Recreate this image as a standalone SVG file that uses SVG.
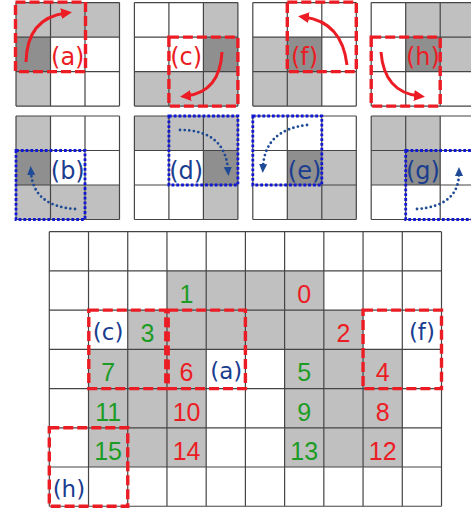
<svg xmlns="http://www.w3.org/2000/svg" width="471" height="510" viewBox="0 0 471 510">
<style>
.bg{fill:#ffffff}
.lg{fill:#c0c0c0}
.dg{fill:#8f8f8f}
.gl{fill:none;stroke:#454545;stroke-width:1.2}
.rbox{fill:none;stroke:#ec1c24;stroke-width:3.4;stroke-dasharray:10 4}
.bbox{fill:none;stroke:#1018d4;stroke-width:2.8;stroke-dasharray:2.8 2}
.rarr{fill:none;stroke:#ec1c24;stroke-width:3;marker-end:url(#rh)}
.barr{fill:none;stroke:#1e4a96;stroke-width:2.8;stroke-linecap:round;stroke-dasharray:0 4.6;marker-end:url(#bh)}
.lab{font-family:"DejaVu Sans",sans-serif;font-size:23px;text-anchor:middle}
.slab{font-family:"DejaVu Sans",sans-serif;font-size:24px;text-anchor:middle}
.num{font-family:"Liberation Sans",Arial,sans-serif;font-size:25px;text-anchor:middle}
.red{fill:#ec1c24}
.blue{fill:#1a3d8f}
.grn{fill:#1c9c24}
</style>
<defs>
<marker id="rh" markerUnits="userSpaceOnUse" markerWidth="11" markerHeight="11" viewBox="0 0 11 11" refX="5" refY="5.5" orient="auto">
<path d="M0,0 L11,5.5 L0,11 z" fill="#ec1c24"/>
</marker>
<marker id="bh" markerUnits="userSpaceOnUse" markerWidth="9" markerHeight="9" viewBox="0 0 9 9" refX="3" refY="4.5" orient="auto">
<path d="M0,0.5 L9,4.5 L0,8.5 z" fill="#1e4a96"/>
</marker>
</defs>
<rect class="bg" x="0" y="0" width="471" height="510"/>

<!-- small grid (a) -->
<g id="grid-a" transform="translate(16,2.6)">
<rect class="lg" x="0" y="0" width="103.5" height="34.5"/>
<rect class="dg" x="0" y="34.5" width="34.5" height="34.5"/>
<rect class="lg" x="0" y="69" width="34.5" height="34.5"/>
<path class="gl" d="M0,0H103.5M0,34.5H103.5M0,69H103.5M0,103.5H103.5M0,0V103.5M34.5,0V103.5M69,0V103.5M103.5,0V103.5"/>
<rect class="rbox" x="-0.5" y="-0.5" width="70" height="69.5"/>
<text class="slab red" x="51.75" y="62.5">(a)</text>
<path class="rarr" d="M10,59.4 Q11,15.4 50,10.4"/>
</g>

<!-- small grid (c) -->
<g id="grid-c" transform="translate(134.4,2.6)">
<rect class="lg" x="69" y="0" width="34.5" height="34.5"/>
<rect class="dg" x="69" y="34.5" width="34.5" height="34.5"/>
<rect class="lg" x="0" y="69" width="103.5" height="34.5"/>
<path class="gl" d="M0,0H103.5M0,34.5H103.5M0,69H103.5M0,103.5H103.5M0,0V103.5M34.5,0V103.5M69,0V103.5M103.5,0V103.5"/>
<rect class="rbox" x="34.5" y="34.5" width="69" height="69"/>
<text class="slab red" x="51.75" y="62.5">(c)</text>
<path class="rarr" d="M87.6,49.4 Q85.6,89.4 51.6,93.4"/>
</g>

<!-- small grid (f) -->
<g id="grid-f" transform="translate(252.8,2.6)">
<rect class="lg" x="0" y="34.5" width="34.5" height="34.5"/>
<rect class="dg" x="34.5" y="34.5" width="34.5" height="34.5"/>
<rect class="lg" x="0" y="69" width="69" height="34.5"/>
<path class="gl" d="M0,0H103.5M0,34.5H103.5M0,69H103.5M0,103.5H103.5M0,0V103.5M34.5,0V103.5M69,0V103.5M103.5,0V103.5"/>
<rect class="rbox" x="34.5" y="-0.5" width="69" height="69.5"/>
<text class="slab red" x="51.75" y="62.5">(f)</text>
<path class="rarr" d="M94.2,62.4 Q89.2,19.4 51.2,14.4"/>
</g>

<!-- small grid (h) -->
<g id="grid-h" transform="translate(371.2,2.6)">
<rect class="lg" x="34.5" y="0" width="69" height="34.5"/>
<rect class="dg" x="34.5" y="34.5" width="34.5" height="34.5"/>
<rect class="lg" x="69" y="34.5" width="34.5" height="34.5"/>
<path class="gl" d="M0,0H103.5M0,34.5H103.5M0,69H103.5M0,103.5H103.5M0,0V103.5M34.5,0V103.5M69,0V103.5M103.5,0V103.5"/>
<rect class="rbox" x="0" y="34.5" width="69" height="69"/>
<text class="slab red" x="51.75" y="62.5">(h)</text>
<path class="rarr" d="M9.8,49.4 Q12.8,89.4 47.8,93.4"/>
</g>

<!-- small grid (b) -->
<g id="grid-b" transform="translate(16,116)">
<rect class="lg" x="0" y="0" width="34.5" height="34.5"/>
<rect class="dg" x="0" y="34.5" width="34.5" height="34.5"/>
<rect class="lg" x="0" y="69" width="103.5" height="34.5"/>
<path class="gl" d="M0,0H103.5M0,34.5H103.5M0,69H103.5M0,103.5H103.5M0,0V103.5M34.5,0V103.5M69,0V103.5M103.5,0V103.5"/>
<rect class="bbox" x="0" y="34.5" width="69" height="69"/>
<text class="slab blue" x="51.75" y="62.5">(b)</text>
<path class="barr" d="M59,93 Q17,90 15,56"/>
</g>

<!-- small grid (d) -->
<g id="grid-d" transform="translate(134.4,116)">
<rect class="lg" x="0" y="0" width="103.5" height="34.5"/>
<rect class="dg" x="69" y="34.5" width="34.5" height="34.5"/>
<rect class="lg" x="69" y="69" width="34.5" height="34.5"/>
<path class="gl" d="M0,0H103.5M0,34.5H103.5M0,69H103.5M0,103.5H103.5M0,0V103.5M34.5,0V103.5M69,0V103.5M103.5,0V103.5"/>
<rect class="bbox" x="34.5" y="0" width="69" height="69"/>
<text class="slab blue" x="51.75" y="62.5">(d)</text>
<path class="barr" d="M45.6,14 Q90.6,14 93.6,54"/>
</g>

<!-- small grid (e) -->
<g id="grid-e" transform="translate(252.8,116)">
<rect class="dg" x="34.5" y="34.5" width="34.5" height="34.5"/>
<rect class="lg" x="69" y="34.5" width="34.5" height="34.5"/>
<rect class="lg" x="34.5" y="69" width="69" height="34.5"/>
<path class="gl" d="M0,0H103.5M0,34.5H103.5M0,69H103.5M0,103.5H103.5M0,0V103.5M34.5,0V103.5M69,0V103.5M103.5,0V103.5"/>
<rect class="bbox" x="0" y="0" width="69" height="69"/>
<text class="slab blue" x="51.75" y="62.5">(e)</text>
<path class="barr" d="M54.2,9 Q12.2,14 10.2,51"/>
</g>

<!-- small grid (g) -->
<g id="grid-g" transform="translate(371.2,116)">
<rect class="lg" x="0" y="0" width="69" height="34.5"/>
<rect class="lg" x="0" y="34.5" width="34.5" height="34.5"/>
<rect class="dg" x="34.5" y="34.5" width="34.5" height="34.5"/>
<path class="gl" d="M0,0H103.5M0,34.5H103.5M0,69H103.5M0,103.5H103.5M0,0V103.5M34.5,0V103.5M69,0V103.5M103.5,0V103.5"/>
<rect class="bbox" x="34.5" y="34.5" width="69" height="69"/>
<text class="slab blue" x="51.75" y="62.5">(g)</text>
<path class="barr" d="M45.8,93 Q87.8,90 87.8,57"/>
</g>

<!-- big grid -->
<g id="big-grid">
<rect class="lg" x="166.96" y="270.92" width="156.88" height="39.22"/>
<rect class="lg" x="127.74" y="310.14" width="235.32" height="39.22"/>
<rect class="lg" x="88.52" y="349.36" width="117.66" height="117.66"/>
<rect class="lg" x="284.62" y="349.36" width="117.66" height="117.66"/>
<path class="gl" d="M49.3,231.7H441.5M49.3,270.92H441.5M49.3,310.14H441.5M49.3,349.36H441.5M49.3,388.58H441.5M49.3,427.8H441.5M49.3,467.02H441.5M49.3,506.24H441.5
M49.3,231.7V506.24M88.52,231.7V506.24M127.74,231.7V506.24M166.96,231.7V506.24M206.18,231.7V506.24M245.4,231.7V506.24M284.62,231.7V506.24M323.84,231.7V506.24M363.06,231.7V506.24M402.28,231.7V506.24M441.5,231.7V506.24"/>
</g>

<g id="numbers">
<text class="num grn" x="186.57" y="302.9">1</text>
<text class="num red" x="304.23" y="302.9">0</text>
<text class="num grn" x="147.35" y="342.1">3</text>
<text class="num red" x="343.45" y="342.1">2</text>
<text class="num grn" x="108.13" y="381.4">7</text>
<text class="num red" x="186.57" y="381.4">6</text>
<text class="num grn" x="304.23" y="381.4">5</text>
<text class="num red" x="382.67" y="381.4">4</text>
<text class="num grn" x="108.13" y="420.6">11</text>
<text class="num red" x="186.57" y="420.6">10</text>
<text class="num grn" x="304.23" y="420.6">9</text>
<text class="num red" x="382.67" y="420.6">8</text>
<text class="num grn" x="108.13" y="459.8">15</text>
<text class="num red" x="186.57" y="459.8">14</text>
<text class="num grn" x="304.23" y="459.8">13</text>
<text class="num red" x="382.67" y="459.8">12</text>
</g>

<g id="box-c">
<rect class="rbox" x="88.8" y="310.14" width="77" height="78.44"/>
<text class="lab blue" x="108.13" y="339.6">(c)</text>
</g>
<g id="box-a">
<rect class="rbox" x="168.2" y="310.14" width="77.2" height="78.44"/>
<text class="lab blue" x="226.3" y="379">(a)</text>
</g>
<g id="box-f">
<rect class="rbox" x="363.06" y="310.14" width="78.44" height="78.44"/>
<text class="lab blue" x="421.9" y="339.6">(f)</text>
</g>
<g id="box-h">
<rect class="rbox" x="49.3" y="427.8" width="78.44" height="78.44"/>
<text class="lab blue" x="68.9" y="496.5">(h)</text>
</g>
</svg>
